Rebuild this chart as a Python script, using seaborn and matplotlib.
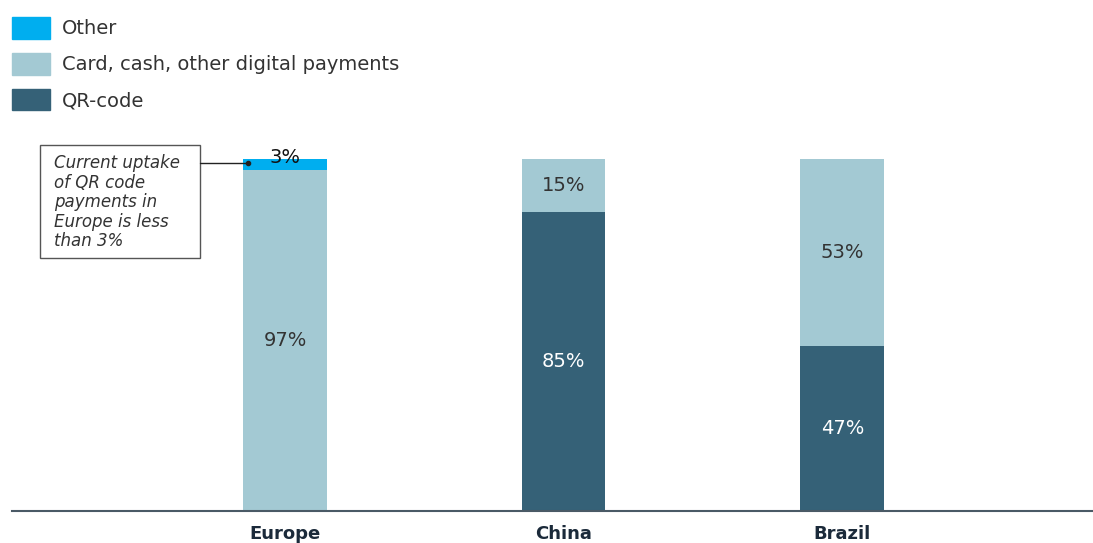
import matplotlib
matplotlib.use("Agg")
import matplotlib.pyplot as plt
import matplotlib.patches as mpatches
import seaborn as sns
import numpy as np
import pandas as pd

regions = ["Europe", "China", "Brazil"]
qr_code = [0, 85, 47]
card_cash = [97, 15, 53]
other = [3, 0, 0]
series_names = ["Other", "Card, cash, other digital payments", "QR-code"]
annotation_text = "Current uptake\nof QR code\npayments in\nEurope is less\nthan 3%"

c_other = "#00AEEF"
c_card = "#A3C9D3"
c_qr = "#356177"

sns.set_theme(style="white")
plt.rcParams["font.family"] = ["DejaVu Sans"]

W, H = 1093, 543
fig = plt.figure(figsize=(W / 100, H / 100), dpi=100)
ax = fig.add_axes([12 / W, 32 / H, 1 - 12 / W, (511 - 140) / H])

df = pd.DataFrame({"region": regions, "qr": qr_code, "card": card_cash, "other": other})
df["l2"] = df["qr"] + df["card"]
df["l3"] = df["l2"] + df["other"]

for col, c in [("l3", c_other), ("l2", c_card), ("qr", c_qr)]:
    sns.barplot(data=df, x="region", y=col, color=c, width=0.30, saturation=1,
                linewidth=0, edgecolor="none", ax=ax)

ax.set_xlim(-0.98, 2.90)
ax.set_ylim(0, 100 * (511 - 140) / 352)
ax.set_xlabel("")
ax.set_ylabel("")
ax.set_yticks([])
for s in ["top", "right", "left"]:
    ax.spines[s].set_visible(False)
ax.spines["bottom"].set_color("#4a5a66")
ax.spines["bottom"].set_linewidth(1.5)
ax.tick_params(axis="x", length=0, pad=10)
for t in ax.get_xticklabels():
    t.set_fontweight("bold")
    t.set_fontsize(13)
    t.set_color("#1b2a3a")

# value labels
for i in range(len(regions)):
    if qr_code[i] > 0:
        ax.text(i, qr_code[i] / 2, f"{qr_code[i]}%", ha="center", va="center",
                color="white", fontsize=14)
    if card_cash[i] > 0:
        ax.text(i, qr_code[i] + card_cash[i] / 2, f"{card_cash[i]}%", ha="center",
                va="center", color="#333333", fontsize=14)
    if other[i] > 0:
        ax.text(i, qr_code[i] + card_cash[i] + other[i] / 2 + 1.8, f"{other[i]}%",
                ha="center", va="center", color="#111111", fontsize=14)

# annotation box with connector
ax.add_patch(mpatches.Rectangle((-0.88, 71.9), 0.575, 32.1, fc="white", ec="#555555",
                                lw=1, clip_on=False, zorder=3))
ax.text(-0.83, 101.3, annotation_text, ha="left", va="top", fontsize=12,
        style="italic", color="#333333", linespacing=1.1, zorder=4, clip_on=False)
ax.plot([-0.305, -0.133], [98.9, 98.9], color="#222222", lw=1, clip_on=False, zorder=4)
ax.plot([-0.133], [98.9], marker="o", markersize=3, color="#222222", clip_on=False, zorder=5)

handles = [mpatches.Patch(color=c_other), mpatches.Patch(color=c_card),
           mpatches.Patch(color=c_qr)]
fig.legend(handles, series_names, loc="upper left", bbox_to_anchor=(12 / W, 1 - 17 / H),
           frameon=False, fontsize=14, handlelength=1.96, handleheight=1.35,
           labelspacing=0.72, borderaxespad=0, borderpad=0, handletextpad=0.62,
           labelcolor="#333333")

fig.savefig("out.png", dpi=100)
